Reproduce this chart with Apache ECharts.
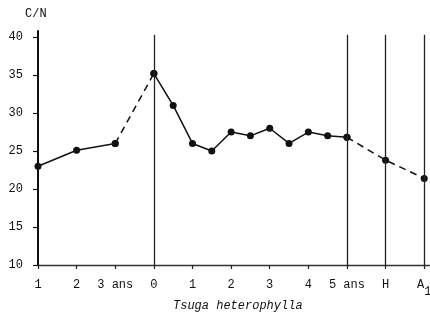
<!DOCTYPE html>
<html>
<head>
<meta charset="utf-8">
<script src="https://cdn.jsdelivr.net/npm/echarts@6/dist/echarts.min.js"></script>
<style>
  html, body { margin: 0; padding: 0; background: #fff; }
  #chart { width: 430px; height: 328px; }
</style>
</head>
<body>
<div id="chart"></div>
<script>
// tick labels on the x axis (index = position)
const xLabels = ['1', '2', '3 ans', '0', '1', '2', '3', '4', '5 ans', 'H', '{a|A}{sub|1}'];
const yTicks = [10, 15, 20, 25, 30, 35, 40];

// sample positions (in tick units) and C/N values
const xPos = [0, 1, 2, 3, 3.5, 4, 4.5, 5, 5.5, 6, 6.5, 7, 7.5, 8, 9, 10];
const cnValues = [23, 25.1, 26, 35.2, 31, 26, 25, 27.5, 27, 28, 26, 27.5, 27, 26.8, 23.8, 21.4];

// vertical reference lines at "0", "5 ans", "H", "A1"
const verticals = [3, 8, 9, 10];

const pts = xPos.map((x, i) => [x, cnValues[i]]);
const solidA = pts.slice(0, 3);
const dashA = pts.slice(2, 4);
const solidB = pts.slice(3, 14);
const dashB = pts.slice(13);

const font = "'Liberation Mono', 'DejaVu Sans Mono', monospace";
const ink = '#111';

const chart = echarts.init(document.getElementById('chart'));

function lineSeries(data, type, marks) {
  return {
    type: 'line',
    data: data,
    symbol: 'circle',
    symbolSize: 7,
    itemStyle: { color: ink },
    lineStyle: { color: ink, width: 1.5, type: type },
    clip: false,
    silent: true,
    z: 3,
    markLine: marks ? {
      silent: true,
      symbol: 'none',
      label: { show: false },
      lineStyle: { color: '#222', width: 1.3, type: 'solid' },
      data: verticals.map(v => [{ coord: [v, 10] }, { coord: [v, 40.3] }])
    } : undefined
  };
}

chart.setOption({
  animation: false,
  backgroundColor: '#fff',
  grid: { left: 38, right: 0, top: 31, bottom: 63, containLabel: false, outerBoundsMode: 'none' },
  graphic: [
    { type: 'text', left: 25, top: 8,
      style: { text: 'C/N', font: '12px ' + font, fill: ink } },
    { type: 'text', left: 173, top: 300,
      style: { text: 'Tsuga heterophylla', font: 'italic 12px ' + font, fill: ink } }
  ],
  xAxis: {
    type: 'value',
    min: 0,
    max: 10.15,
    interval: 1,
    splitLine: { show: false },
    axisLine: { show: true, onZero: false, lineStyle: { color: '#333', width: 1.3 } },
    axisTick: { show: true, length: 4, customValues: xLabels.map((_, i) => i),
      lineStyle: { color: '#222', width: 1.2 } },
    axisLabel: {
      customValues: xLabels.map((_, i) => i),
      formatter: v => xLabels[Math.round(v)],
      fontFamily: font, fontSize: 12, color: ink, margin: 14,
      verticalAlign: 'top',
      rich: {
        a: { fontFamily: font, fontSize: 12, color: ink, verticalAlign: 'top' },
        sub: { fontFamily: font, fontSize: 12, color: ink, verticalAlign: 'bottom', padding: [7, 0, 0, 0] }
      }
    }
  },
  yAxis: {
    type: 'value',
    min: 10,
    max: 40.8,
    splitLine: { show: false },
    axisLine: { show: true, onZero: false, lineStyle: { color: ink, width: 2 } },
    axisTick: { show: true, length: 5, customValues: yTicks, lineStyle: { color: ink, width: 1.2 } },
    axisLabel: { customValues: yTicks, fontFamily: font, fontSize: 12, color: ink, margin: 15 }
  },
  series: [
    lineSeries(solidA, 'solid', true),
    lineSeries(dashA, [7, 5], false),
    lineSeries(solidB, 'solid', false),
    lineSeries(dashB, [7, 5], false)
  ]
});
</script>
</body>
</html>
